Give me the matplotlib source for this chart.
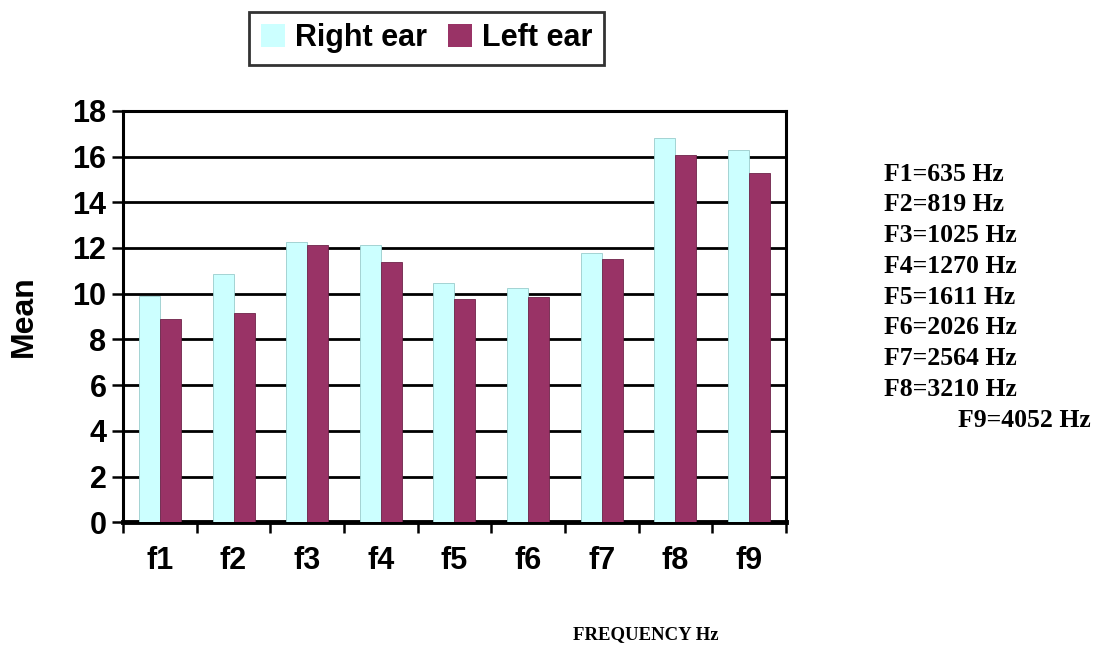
import matplotlib.pyplot as plt
import numpy as np

categories = ['f1', 'f2', 'f3', 'f4', 'f5', 'f6', 'f7', 'f8', 'f9']
right_ear = [9.9, 10.85, 12.25, 12.15, 10.45, 10.25, 11.8, 16.8, 16.3]
left_ear = [8.9, 9.15, 12.15, 11.4, 9.75, 9.85, 11.5, 16.05, 15.3]
freq_notes = ['F1=635 Hz', 'F2=819 Hz', 'F3=1025 Hz', 'F4=1270 Hz', 'F5=1611 Hz',
              'F6=2026 Hz', 'F7=2564 Hz', 'F8=3210 Hz', 'F9=4052 Hz']

plt.rcParams['font.family'] = ['Liberation Sans', 'DejaVu Sans']

fig = plt.figure(figsize=(10.99, 6.48), dpi=100)
ax = fig.add_axes([0.112, 0.194, 0.603, 0.635])

x = np.arange(len(categories))
w = 0.285
ax.bar(x - w / 2, right_ear, w, color='#CCFFFF', edgecolor='#99CCCC', linewidth=0.6,
       label='Right ear', zorder=3)
ax.bar(x + w / 2, left_ear, w, color='#993366', edgecolor='#6E2449', linewidth=0.6,
       label='Left ear', zorder=3)

ax.set_xlim(-0.5, len(categories) - 0.5)
ax.set_ylim(0, 18)
ax.set_yticks(np.arange(0, 19, 2))
ax.yaxis.grid(True, color='black', linewidth=2.0, zorder=0)
ax.set_axisbelow(True)

ax.set_xticks(x)
ax.set_xticklabels(categories)
ax.set_xticks(np.arange(-0.5, len(categories)), minor=True)
ax.tick_params(axis='x', which='major', length=0, pad=17, labelsize=22)
ax.tick_params(axis='x', which='minor', length=8, width=1.8, direction='out')
ax.tick_params(axis='y', length=8, width=1.8, direction='out', pad=4, labelsize=22)
for lab in ax.get_xticklabels() + ax.get_yticklabels():
    lab.set_fontweight('bold')

for s in ax.spines.values():
    s.set_linewidth(2.2)
    s.set_color('black')
ax.spines['bottom'].set_linewidth(3.5)

ax.set_ylabel('Mean', fontsize=23, fontweight='bold', labelpad=24)

fig.text(0.588, 0.008, 'FREQUENCY Hz', fontsize=13.5, fontweight='bold',
         family=['Liberation Serif'], ha='center', va='bottom')

y0 = 174
for i, t in enumerate(freq_notes):
    xpos = 958 if i == 8 else 884
    fig.text(xpos / 1099, 1 - (y0 + i * 30.8) / 648, t, fontsize=18.5, fontweight='bold',
             family=['Liberation Serif'], ha='left', va='center')

leg = fig.legend(loc='upper center', bbox_to_anchor=(0.388, 0.982), ncol=2,
                 prop={'weight': 'bold', 'size': 22}, frameon=True,
                 fancybox=False, handlelength=0.8, handleheight=0.8, handletextpad=0.3,
                 columnspacing=0.7, borderpad=0.38, borderaxespad=0)
leg.get_frame().set_edgecolor('black')
leg.get_frame().set_linewidth(2)
for h in leg.legend_handles:
    h.set_edgecolor('none')

fig.savefig('out.png', dpi=100)
